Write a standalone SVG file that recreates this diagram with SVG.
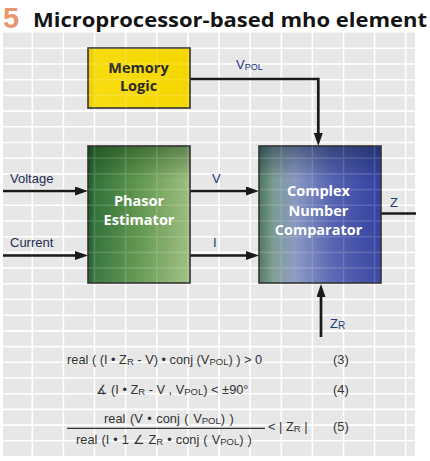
<svg xmlns="http://www.w3.org/2000/svg" width="430" height="461" viewBox="0 0 430 461">
<style>
.title{font-family:"Open Sans","Noto Sans",sans-serif;font-weight:bold;}
.box{stroke:#333;stroke-width:1.6;}
.bt{font-family:"Open Sans","Noto Sans",sans-serif;font-weight:bold;font-size:14.5px;text-anchor:middle;}
.lbl{font-family:"Liberation Sans",Arial,sans-serif;font-size:13px;fill:#1e2d55;}
.sig{font-family:"Liberation Sans",Arial,sans-serif;font-size:13px;fill:#1f3a80;}
.eq{font-family:"Liberation Sans","DejaVu Sans",sans-serif;font-size:12.8px;fill:#333;}
.sub{font-size:9.5px;}
.conn{fill:none;stroke:#1a1a1a;stroke-width:2.7;}
.grid{fill:none;stroke:#fff;stroke-width:1.6;}
</style>
<defs>
<marker id="ah" markerUnits="userSpaceOnUse" markerWidth="13" markerHeight="9" refX="8" refY="4.5" orient="auto">
<path d="M0,0 L13,4.5 L0,9 Z" fill="#1a1a1a"/>
</marker>
<linearGradient id="gY" x1="0" y1="0" x2="1" y2="0">
<stop offset="0" stop-color="#e8c800"/><stop offset="0.08" stop-color="#f7dc10"/><stop offset="1" stop-color="#f5d600"/>
</linearGradient>
<linearGradient id="gG" x1="0" y1="0" x2="1" y2="0">
<stop offset="0" stop-color="#1d5424"/><stop offset="0.06" stop-color="#32723a"/><stop offset="0.5" stop-color="#62984f"/><stop offset="1" stop-color="#9fbf82"/>
</linearGradient>
<linearGradient id="gB" x1="0" y1="0" x2="1" y2="0">
<stop offset="0" stop-color="#4c7660"/><stop offset="0.12" stop-color="#7c9c92"/><stop offset="0.3" stop-color="#8a98c2"/><stop offset="0.6" stop-color="#5563b2"/><stop offset="1" stop-color="#3440a0"/>
</linearGradient>
<linearGradient id="gTop" x1="0" y1="0" x2="0" y2="1">
<stop offset="0" stop-color="#102040" stop-opacity="0.45"/><stop offset="0.25" stop-color="#102040" stop-opacity="0"/><stop offset="1" stop-color="#ffffff" stop-opacity="0.05"/>
</linearGradient>
<linearGradient id="gTopG" x1="0" y1="0" x2="0" y2="1">
<stop offset="0" stop-color="#0a300a" stop-opacity="0.4"/><stop offset="0.25" stop-color="#0a300a" stop-opacity="0"/><stop offset="1" stop-color="#ffffff" stop-opacity="0.05"/>
</linearGradient>
<clipPath id="boxclip">
<rect x="88" y="48" width="102" height="60"/>
<rect x="88" y="146" width="102" height="137"/>
<rect x="259" y="146" width="122" height="137"/>
</clipPath>
<path id="gridp" d="M32.3,32.6V456M63.4,32.6V456M94.5,32.6V456M125.7,32.6V456M156.8,32.6V456M187.9,32.6V456M219,32.6V456M250.1,32.6V456M281.3,32.6V456M312.4,32.6V456M343.5,32.6V456M374.6,32.6V456M405.7,32.6V456M3,48.3H415M3,64H415M3,79.7H415M3,95.4H415M3,111.1H415M3,126.8H415M3,142.5H415M3,158.2H415M3,173.9H415M3,189.6H415M3,205.3H415M3,221H415M3,236.7H415M3,252.4H415M3,268.1H415M3,283.8H415M3,299.5H415M3,315.2H415M3,330.9H415M3,346.6H415M3,362.3H415M3,378H415M3,393.7H415M3,409.4H415M3,425.1H415M3,440.8H415"/>
</defs>
<rect x="0" y="0" width="430" height="461" fill="#fff"/>
<g id="background">
<rect x="3" y="32.6" width="412" height="423.4" fill="#e7e7e7"/>
<use href="#gridp" class="grid"/>
</g>
<g id="title">
<text x="3" y="27.5" font-family="'Liberation Sans',Arial,sans-serif" font-weight="bold" font-size="29" fill="#e9956f">5</text>
<text class="title" x="33" y="27" font-size="20" fill="#141414" textLength="394" lengthAdjust="spacingAndGlyphs">Microprocessor-based mho element</text>
</g>
<g id="connectors">
<path class="conn" d="M3,191H83" marker-end="url(#ah)"/>
<path class="conn" d="M3,255.5H83" marker-end="url(#ah)"/>
<path class="conn" d="M190,191H254" marker-end="url(#ah)"/>
<path class="conn" d="M190,255.5H254" marker-end="url(#ah)"/>
<path class="conn" d="M190,79H318.3V141" marker-end="url(#ah)"/>
<path class="conn" d="M381,213.5H416"/>
<path class="conn" d="M321,337V289" marker-end="url(#ah)"/>
<text class="lbl" x="10" y="183">Voltage</text>
<text class="lbl" x="10" y="247">Current</text>
<text class="sig" x="212" y="183">V</text>
<text class="sig" x="213" y="247">I</text>
<text class="sig" x="236" y="69">V<tspan font-size="9" dy="1">POL</tspan></text>
<text class="sig" x="390" y="207">Z</text>
<text class="sig" x="330" y="328">Z<tspan font-size="10" dy="1">R</tspan></text>
</g>
<g id="memory-logic">
<rect class="box" x="88" y="48" width="102" height="60" fill="url(#gY)"/>
<text class="bt" x="138.5" y="72.5" fill="#2a2a2a">Memory</text>
<text class="bt" x="138.5" y="90.5" fill="#2a2a2a">Logic</text>
</g>
<g id="phasor-estimator">
<rect x="88" y="146" width="102" height="137" fill="url(#gG)"/>
<rect class="box" x="88" y="146" width="102" height="137" fill="url(#gTopG)"/>
<text class="bt" x="139" y="206" fill="#fff">Phasor</text>
<text class="bt" x="139" y="225" fill="#fff">Estimator</text>
</g>
<g id="complex-number-comparator">
<rect x="259" y="146" width="122" height="137" fill="url(#gB)"/>
<rect class="box" x="259" y="146" width="122" height="137" fill="url(#gTop)" stroke="#262626"/>
<text class="bt" x="318.5" y="196" fill="#fff">Complex</text>
<text class="bt" x="318.5" y="215.5" fill="#fff">Number</text>
<text class="bt" x="318.5" y="234.5" fill="#fff">Comparator</text>
</g>
<g id="grid-overlay" clip-path="url(#boxclip)" opacity="0.14">
<use href="#gridp" class="grid"/>
</g>
<g id="equations">
<text class="eq" x="67" y="363.5">real ( (I • Z<tspan class="sub" dy="1">R</tspan><tspan dy="-1"> - V) • conj (V</tspan><tspan class="sub" dy="1">POL</tspan><tspan dy="-1">) ) &gt; 0</tspan></text>
<text class="eq" x="333" y="364" font-size="14">(3)</text>
<text class="eq" x="96" y="393.5">∡ (I • Z<tspan class="sub" dy="1">R</tspan><tspan dy="-1"> - V , V</tspan><tspan class="sub" dy="1">POL</tspan><tspan dy="-1">) &lt; ±90°</tspan></text>
<text class="eq" x="333" y="394" font-size="14">(4)</text>
<text class="eq" x="104" y="423" word-spacing="1">real (V •  conj ( V<tspan class="sub" dy="1">POL</tspan><tspan dy="-1">) )</tspan></text>
<path d="M67,428.3H265" stroke="#333" stroke-width="1.2"/>
<text class="eq" x="76" y="443.5" word-spacing="0.5">real (I •  1 ∠ Z<tspan class="sub" dy="1">R</tspan><tspan dy="-1"> • conj ( V</tspan><tspan class="sub" dy="1">POL</tspan><tspan dy="-1">) )</tspan></text>
<text class="eq" x="268" y="431">&lt; | Z<tspan class="sub" dy="1">R</tspan><tspan dy="-1"> |</tspan></text>
<text class="eq" x="333" y="431" font-size="14">(5)</text>
</g>
</svg>
